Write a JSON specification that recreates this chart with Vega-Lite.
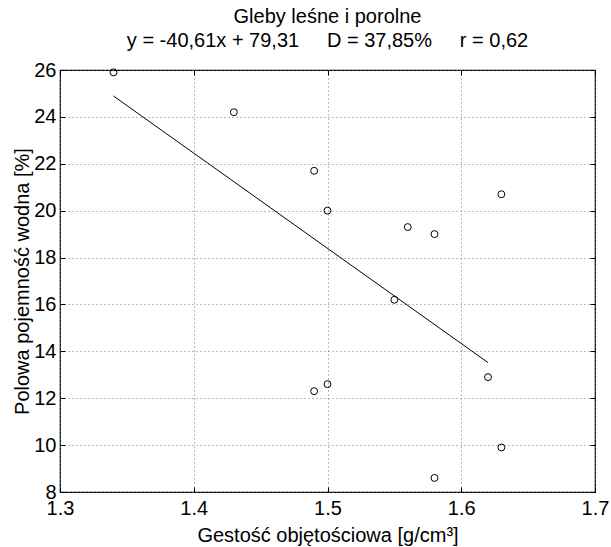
{
  "$schema": "https://vega.github.io/schema/vega-lite/v6.json",
  "width": 535,
  "height": 422,
  "autosize": {"type": "none"},
  "padding": {"left": 60, "top": 70, "right": 16, "bottom": 55},
  "background": "white",
  "config": {
    "font": "Liberation Sans",
    "view": {"stroke": "black", "strokeWidth": 1.2},
    "axis": {"labelFont": "Liberation Sans", "titleFont": "Liberation Sans", "labelColor": "black", "titleColor": "black", "labelFontSize": 20, "titleFontSize": 20, "titleFontWeight": "normal", "domainColor": "black", "tickColor": "black", "gridColor": "#777", "gridDash": [1, 3], "gridWidth": 1, "gridOpacity": 1}
  },
  "title": {
    "text": ["Gleby leśne i porolne", "y = -40,61x + 79,31 \u00a0\u00a0\u00a0\u00a0D = 37,85% \u00a0\u00a0\u00a0\u00a0r = 0,62"],
    "font": "Liberation Sans",
    "fontSize": 20,
    "fontWeight": "normal",
    "color": "black",
    "offset": 9,
    "lineHeight": 24
  },
  "datasets": {
    "points": [
      {"g": 1.34, "p": 25.9},
      {"g": 1.43, "p": 24.2},
      {"g": 1.49, "p": 21.7},
      {"g": 1.50, "p": 20.0},
      {"g": 1.56, "p": 19.3},
      {"g": 1.58, "p": 19.0},
      {"g": 1.63, "p": 20.7},
      {"g": 1.55, "p": 16.2},
      {"g": 1.62, "p": 12.9},
      {"g": 1.49, "p": 12.3},
      {"g": 1.50, "p": 12.6},
      {"g": 1.63, "p": 9.9},
      {"g": 1.58, "p": 8.6}
    ],
    "fit": [
      {"g": 1.34, "p": 24.89},
      {"g": 1.62, "p": 13.52}
    ]
  },
  "layer": [
    {
      "data": {"name": "fit"},
      "mark": {"type": "line", "color": "black", "strokeWidth": 1},
      "encoding": {
        "x": {"field": "g", "type": "quantitative", "scale": {"domain": [1.3, 1.7], "nice": false, "zero": false},
          "axis": {"orient": "top", "labels": false, "grid": false, "domain": false, "tickSize": -5, "values": [1.3, 1.4, 1.5, 1.6, 1.7], "title": null}},
        "y": {"field": "p", "type": "quantitative", "scale": {"domain": [8, 26], "nice": false, "zero": false},
          "axis": {"orient": "right", "labels": false, "grid": false, "domain": false, "tickSize": -5, "values": [8, 10, 12, 14, 16, 18, 20, 22, 24, 26], "title": null}}
      }
    },
    {
      "data": {"name": "points"},
      "mark": {"type": "point", "shape": "circle", "filled": false, "color": "black", "strokeWidth": 1, "size": 48, "opacity": 1},
      "encoding": {
        "x": {"field": "g", "type": "quantitative",
          "axis": {"orient": "bottom", "grid": true, "values": [1.3, 1.4, 1.5, 1.6, 1.7], "format": ".1f", "labelFlush": false, "labelOverlap": false, "tickSize": -5, "labelPadding": 11, "domain": false, "title": "Gestość objętościowa [g/cm³]", "titleY": 49, "titleBaseline": "alphabetic"}},
        "y": {"field": "p", "type": "quantitative",
          "axis": {"orient": "left", "grid": true, "values": [8, 10, 12, 14, 16, 18, 20, 22, 24, 26], "format": "d", "labelFlush": false, "labelOverlap": false, "tickSize": -5, "labelPadding": 9, "domain": false, "title": "Polowa pojemność wodna [%]", "titleX": -32, "titleBaseline": "alphabetic"}}
      }
    }
  ]
}
